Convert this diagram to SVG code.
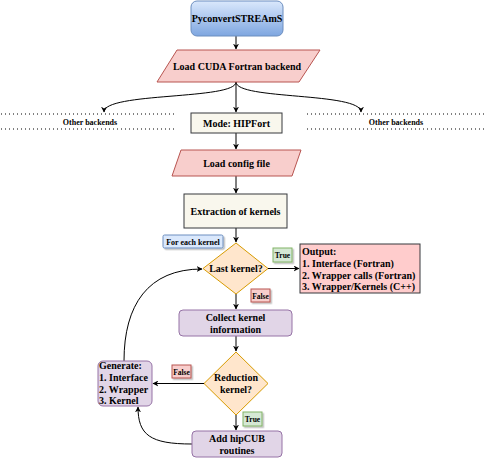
<svg xmlns="http://www.w3.org/2000/svg" width="485" height="459" viewBox="0 0 485 459">
<defs>
<linearGradient id="gblue" x1="0" y1="0" x2="0" y2="1">
<stop offset="0" stop-color="#dae8fc"/>
<stop offset="1" stop-color="#7ea6e0"/>
</linearGradient>
<marker id="arr" viewBox="0 0 10 10" refX="9" refY="5" markerWidth="6" markerHeight="6" orient="auto" markerUnits="userSpaceOnUse">
<path d="M0,0 L10,5 L0,10 L3,5 Z" fill="#000"/>
</marker>
<filter id="sh" x="-20%" y="-20%" width="150%" height="150%">
<feDropShadow dx="1.5" dy="1.5" stdDeviation="0.6" flood-color="#000" flood-opacity="0.25"/>
</filter>
</defs>
<style>
text{font-family:"Liberation Serif","Times New Roman",serif;font-weight:bold;fill:#000}
.t11{font-size:10px}
.t10{font-size:10px}
.t8{font-size:8px}
.t7{font-size:7.5px}
.t8b{font-size:8px}
.c{text-anchor:middle}
.pink{fill:#f8cecc;stroke:#b85450;stroke-width:1}
.beige{fill:#f9f7ed;stroke:#36393d;stroke-width:1}
.dia{fill:#ffe6cc;stroke:#d79b00;stroke-width:1}
.purp{fill:#e1d5e7;stroke:#9673a6;stroke-width:1}
.green{fill:#d5e8d4;stroke:#82b366;stroke-width:1}
.blue{fill:#dae8fc;stroke:#6c8ebf;stroke-width:1}
.conn{fill:none;stroke:#000;stroke-width:1}
.dots{fill:none;stroke:#000;stroke-width:1;stroke-dasharray:1 3}
</style>

<g id="connectors">
<path class="conn" d="M236,36 V49" marker-end="url(#arr)"/>
<path class="conn" d="M236,82 V112" marker-end="url(#arr)"/>
<path class="conn" d="M236,82 C236,100 104,92 104,112" marker-end="url(#arr)"/>
<path class="conn" d="M236,82 C236,100 361,92 361,112" marker-end="url(#arr)"/>
<path class="conn" d="M236,133 V149" marker-end="url(#arr)"/>
<path class="conn" d="M236,176 V193" marker-end="url(#arr)"/>
<path class="conn" d="M236,228 V242" marker-end="url(#arr)"/>
<path class="conn" d="M268,268.5 H299" marker-end="url(#arr)"/>
<path class="conn" d="M236,294 V309" marker-end="url(#arr)"/>
<path class="conn" d="M236,336 V351" marker-end="url(#arr)"/>
<path class="conn" d="M204,383.5 H153" marker-end="url(#arr)"/>
<path class="conn" d="M236,415 V430" marker-end="url(#arr)"/>
<path class="conn" d="M192,444 C150,444 138,435 138,407" marker-end="url(#arr)"/>
<path class="conn" d="M124,361 C124,305 148,269 202,269" marker-end="url(#arr)"/>
</g>

<g id="other-backends-left">
<path class="dots" d="M1,114 H175"/>
<path class="dots" d="M1,129 H175"/>
<text class="t8 c" x="90" y="125">Other backends</text>
</g>
<g id="other-backends-right">
<path class="dots" d="M307,114 H484"/>
<path class="dots" d="M307,129 H484"/>
<text class="t8 c" x="396" y="125">Other backends</text>
</g>

<g id="pyconvert">
<rect x="191" y="1" width="92" height="35" rx="6" fill="url(#gblue)" stroke="#6c8ebf"/>
<text class="t11 c" x="237" y="22">PyconvertSTREAmS</text>
</g>

<g id="load-cuda">
<polygon class="pink" points="177,50 320,50 299,82 157,82"/>
<text class="t11 c" x="237" y="70">Load CUDA Fortran backend</text>
</g>

<g id="mode">
<rect class="beige" x="191" y="113" width="91" height="20"/>
<text class="t11 c" x="236.5" y="126.5">Mode: HIPFort</text>
</g>

<g id="load-config">
<polygon class="pink" points="181,150 301,150 292,176 172,176"/>
<text class="t11 c" x="236.5" y="166.5">Load config file</text>
</g>

<g id="extraction">
<rect class="beige" x="184" y="194" width="103" height="34"/>
<text class="t11 c" x="235.5" y="214.5">Extraction of kernels</text>
</g>

<g id="for-each">
<rect class="blue" x="163" y="235" width="60" height="13" rx="1.5" filter="url(#sh)"/>
<text class="t8b c" x="193" y="244.5">For each kernel</text>
</g>

<g id="last-kernel">
<polygon class="dia" points="236,243 268,268.5 236,294 203,268.5"/>
<text class="t10 c" x="236" y="272">Last kernel?</text>
</g>

<g id="true-1">
<rect class="green" x="273" y="248" width="19" height="14" filter="url(#sh)"/>
<text class="t7 c" x="282.5" y="258">True</text>
</g>

<g id="output">
<rect x="300" y="244" width="120" height="49" fill="#ffcccc" stroke="#36393d"/>
<text class="t10" x="302" y="255">Output:</text>
<text class="t10" x="302" y="266.5">1. Interface (Fortran)</text>
<text class="t10" x="302" y="278.5">2. Wrapper calls (Fortran)</text>
<text class="t10" x="302" y="290">3. Wrapper/Kernels (C++)</text>
</g>

<g id="false-1">
<rect class="pink" x="251" y="289" width="19" height="13" filter="url(#sh)"/>
<text class="t7 c" x="260.5" y="298.5">False</text>
</g>

<g id="collect">
<rect class="purp" x="179" y="310" width="113" height="26" rx="4"/>
<text class="t10 c" x="235.5" y="321">Collect kernel</text>
<text class="t10 c" x="235.5" y="333">information</text>
</g>

<g id="reduction">
<polygon class="dia" points="236,352 268,383.5 236,415 204,383.5"/>
<text class="t10 c" x="236" y="381">Reduction</text>
<text class="t10 c" x="236" y="393">kernel?</text>
</g>

<g id="false-2">
<rect class="pink" x="172" y="365" width="19" height="13" filter="url(#sh)"/>
<text class="t7 c" x="181.5" y="374.5">False</text>
</g>

<g id="generate">
<rect class="purp" x="98" y="361" width="54" height="45" rx="5"/>
<text class="t10" x="99" y="369">Generate:</text>
<text class="t10" x="99" y="381">1. Interface</text>
<text class="t10" x="99" y="393">2. Wrapper</text>
<text class="t10" x="99" y="404">3. Kernel</text>
</g>

<g id="true-2">
<rect class="green" x="243" y="412" width="19" height="14" filter="url(#sh)"/>
<text class="t7 c" x="252.5" y="422">True</text>
</g>

<g id="hipcub">
<rect class="purp" x="192" y="431" width="90" height="26" rx="4"/>
<text class="t10 c" x="237" y="442">Add hipCUB</text>
<text class="t10 c" x="237" y="454">routines</text>
</g>
</svg>
